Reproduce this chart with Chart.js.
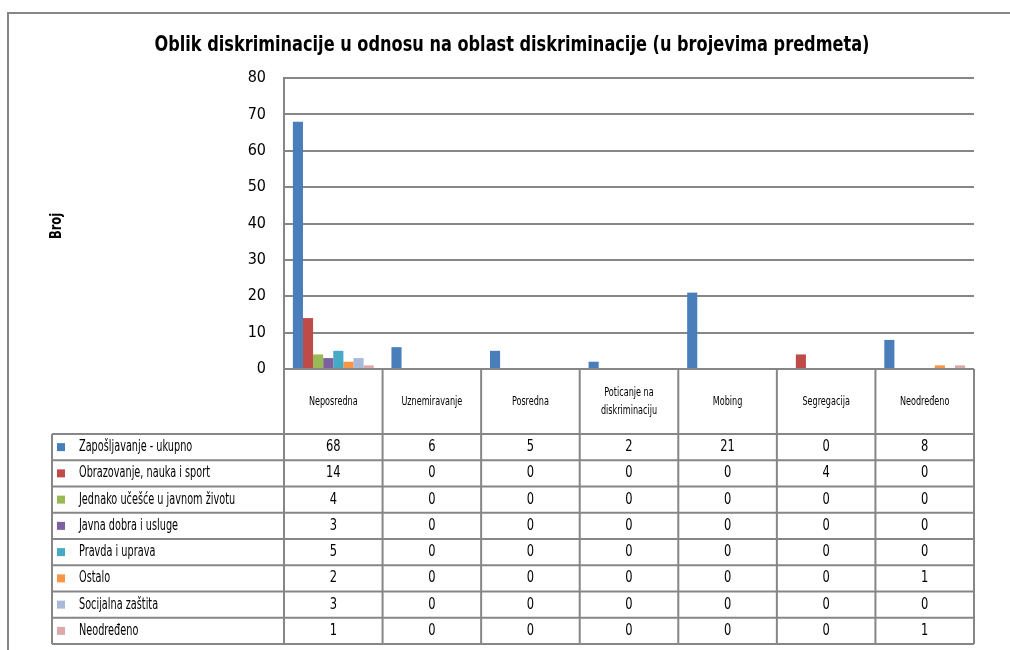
<!DOCTYPE html>
<html>
<head>
    <meta charset="utf-8">
    <title>Oblik diskriminacije</title>
    <script src="https://cdn.jsdelivr.net/npm/chart.js@4.4.0/dist/chart.umd.min.js"></script>
    <style>
        body { margin: 0; background: #fff; }
        canvas { display: block; }
    </style>
</head>
<body>
    <canvas id="chart" width="1010" height="650"></canvas>
    <script>
        // kategorije (oblik diskriminacije)
        var categories = ['Neposredna', 'Uznemiravanje', 'Posredna', ['Poticanje na', 'diskriminaciju'], 'Mobing', 'Segregacija', 'Neodređeno'];

        // serije (oblast diskriminacije)
        var seriesNames = ['Zapošljavanje - ukupno', 'Obrazovanje, nauka i sport', 'Jednako učešće u javnom životu',
            'Javna dobra i usluge', 'Pravda i uprava', 'Ostalo', 'Socijalna zaštita', 'Neodređeno'];

        var zaposljavanje = [68, 6, 5, 2, 21, 0, 8];
        var obrazovanje   = [14, 0, 0, 0, 0, 4, 0];
        var ucesce        = [4, 0, 0, 0, 0, 0, 0];
        var javnaDobra    = [3, 0, 0, 0, 0, 0, 0];
        var pravda        = [5, 0, 0, 0, 0, 0, 0];
        var ostalo        = [2, 0, 0, 0, 0, 0, 1];
        var socijalna     = [3, 0, 0, 0, 0, 0, 0];
        var neodredjeno   = [1, 0, 0, 0, 0, 0, 1];

        var yTicks = [0, 10, 20, 30, 40, 50, 60, 70, 80];

        var colors = ['#4a7ebb', '#be4b48', '#98b954', '#7d60a0', '#46aac5', '#f79646', '#a9b9d9', '#dba9a9'];
        var allSeries = [zaposljavanje, obrazovanje, ucesce, javnaDobra, pravda, ostalo, socijalna, neodredjeno];

        var FONT = "'Liberation Sans Narrow', 'DejaVu Sans Condensed', sans-serif";
        var LINE = '#868686';

        // tekst sabijen po širini (font u originalu je uži)
        function narrowText(ctx, text, x, y, sx, align) {
            ctx.save();
            ctx.translate(x, y);
            ctx.scale(sx, 1);
            ctx.textAlign = align;
            ctx.fillText(text, 0, 0);
            ctx.restore();
        }

        // tabela ispod grafikona + okvir + naslovi
        var tablePlugin = {
            id: 'tablePlugin',
            beforeDraw: function (chart) {
                var ctx = chart.ctx;
                ctx.save();
                ctx.fillStyle = '#fff';
                ctx.fillRect(0, 0, chart.width, chart.height);
                ctx.strokeStyle = LINE;
                ctx.lineWidth = 2;
                ctx.beginPath();
                ctx.moveTo(8, 700);
                ctx.lineTo(8, 13);
                ctx.lineTo(1010, 13);
                ctx.stroke();
                ctx.restore();
            },
            afterDraw: function (chart) {
                var ctx = chart.ctx;
                var area = chart.chartArea;
                var xs = chart.scales.x;
                var n = categories.length;
                var half = (area.right - area.left) / n / 2;
                var headTop = area.bottom;
                var headBottom = 434;
                var rowH = 26.25;
                var tableLeft = 52;
                var tableBottom = headBottom + rowH * seriesNames.length;

                ctx.save();

                // naslov
                ctx.fillStyle = '#000';
                ctx.textBaseline = 'middle';
                ctx.font = 'bold 22px ' + FONT;
                var title = 'Oblik diskriminacije u odnosu na oblast diskriminacije (u brojevima predmeta)';
                var tw = ctx.measureText(title).width;
                narrowText(ctx, title, 512, 45, Math.min(1, 715 / tw), 'center');

                // naslov ose
                ctx.save();
                ctx.translate(57, 226);
                ctx.rotate(-Math.PI / 2);
                ctx.font = 'bold 15px ' + FONT;
                narrowText(ctx, 'Broj', 0, 0, 0.85, 'center');
                ctx.restore();

                // linije tabele
                ctx.strokeStyle = LINE;
                ctx.lineWidth = 2;
                ctx.beginPath();
                for (var i = 0; i <= n; i++) {
                    var bx = i < n ? xs.getPixelForValue(i) - half : xs.getPixelForValue(n - 1) + half;
                    ctx.moveTo(bx, headTop);
                    ctx.lineTo(bx, tableBottom);
                }
                ctx.moveTo(tableLeft, headBottom);
                ctx.lineTo(tableLeft, tableBottom);
                for (var r = 0; r <= seriesNames.length; r++) {
                    var ry = headBottom + r * rowH;
                    ctx.moveTo(tableLeft, ry);
                    ctx.lineTo(area.right, ry);
                }
                ctx.stroke();

                // zaglavlje
                ctx.fillStyle = '#000';
                ctx.font = '12px ' + FONT;
                for (var c = 0; c < n; c++) {
                    var cx = xs.getPixelForValue(c);
                    var lab = categories[c];
                    var midY = (headTop + headBottom) / 2;
                    if (Array.isArray(lab)) {
                        narrowText(ctx, lab[0], cx, midY - 9, 0.75, 'center');
                        narrowText(ctx, lab[1], cx, midY + 9, 0.75, 'center');
                    } else {
                        narrowText(ctx, lab, cx, midY, 0.75, 'center');
                    }
                }

                // redovi
                ctx.font = '15px ' + FONT;
                for (var s = 0; s < seriesNames.length; s++) {
                    var cy = headBottom + s * rowH + rowH / 2;
                    ctx.fillStyle = colors[s];
                    ctx.fillRect(57, cy - 4, 8, 8);
                    ctx.fillStyle = '#000';
                    narrowText(ctx, seriesNames[s], 79, cy, 0.72, 'left');
                    for (var k = 0; k < n; k++) {
                        narrowText(ctx, String(allSeries[s][k]), xs.getPixelForValue(k), cy, 0.85, 'center');
                    }
                }
                ctx.restore();
            }
        };

        var datasets = seriesNames.map(function (name, i) {
            return {
                label: name,
                data: allSeries[i],
                backgroundColor: colors[i],
                borderWidth: 0,
                barPercentage: 1,
                categoryPercentage: 0.82
            };
        });

        new Chart(document.getElementById('chart'), {
            type: 'bar',
            data: {
                labels: categories,
                datasets: datasets
            },
            options: {
                responsive: false,
                animation: false,
                layout: {
                    padding: { left: 0, right: 36, top: 78, bottom: 281 }
                },
                plugins: {
                    legend: { display: false },
                    title: { display: false },
                    tooltip: { enabled: false }
                },
                scales: {
                    x: {
                        display: false,
                        offset: true
                    },
                    y: {
                        min: 0,
                        max: 80,
                        afterFit: function (scale) { scale.width = 284; },
                        afterBuildTicks: function (scale) {
                            scale.ticks = yTicks.map(function (v) { return { value: v }; });
                        },
                        ticks: {
                            padding: 18,
                            color: '#000',
                            font: { family: FONT, size: 16 }
                        },
                        grid: {
                            color: LINE,
                            lineWidth: 2,
                            drawTicks: false
                        },
                        border: {
                            color: LINE,
                            width: 2
                        }
                    }
                }
            },
            plugins: [tablePlugin]
        });
    </script>
</body>
</html>
